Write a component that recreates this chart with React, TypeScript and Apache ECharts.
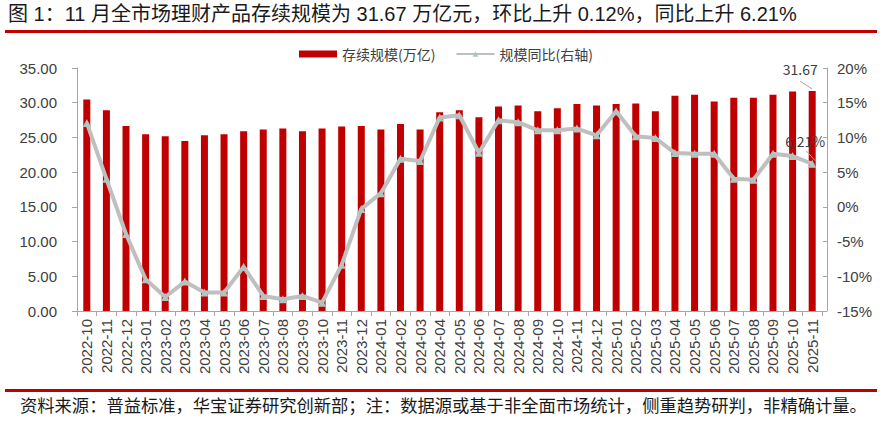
import React, { useEffect, useRef } from "react";
import * as echarts from "echarts";

const categories = [
  "2022-10", "2022-11", "2022-12",
  "2023-01", "2023-02", "2023-03", "2023-04", "2023-05", "2023-06",
  "2023-07", "2023-08", "2023-09", "2023-10", "2023-11", "2023-12",
  "2024-01", "2024-02", "2024-03", "2024-04", "2024-05", "2024-06",
  "2024-07", "2024-08", "2024-09", "2024-10", "2024-11", "2024-12",
  "2025-01", "2025-02", "2025-03", "2025-04", "2025-05", "2025-06",
  "2025-07", "2025-08", "2025-09", "2025-10", "2025-11",
];

// 存续规模（万亿）
const scaleValues = [
  30.47, 28.93, 26.66,
  25.46, 25.17, 24.49, 25.3, 25.46, 25.9,
  26.13, 26.28, 25.9, 26.28, 26.57, 26.66,
  26.13, 26.95, 26.13, 28.64, 28.93, 27.91,
  29.46, 29.6, 28.78, 29.22, 29.8, 29.6,
  29.8, 29.9, 28.78, 31.0, 31.15, 30.18,
  30.7, 30.7, 31.15, 31.63, 31.67,
];

// 规模同比（%）
const yoyValues = [
  12.09, 4.04, -3.91,
  -10.42, -12.98, -10.76, -12.35, -12.35, -8.64,
  -12.83, -13.31, -12.83, -13.8, -8.35, -0.3,
  1.97, 6.94, 6.6, 12.87, 13.2, 7.8,
  12.48, 12.19, 11.03, 11.03, 11.28, 10.31,
  13.78, 10.17, 9.92, 7.75, 7.66, 7.66,
  4.04, 3.9, 7.66, 7.32, 6.21,
];

const TITLE = "图 1：11 月全市场理财产品存续规模为 31.67 万亿元，环比上升 0.12%，同比上升 6.21%";
const FOOTER = "资料来源：普益标准，华宝证券研究创新部；注：数据源或基于非全面市场统计，侧重趋势研判，非精确计量。";
const BAR_NAME = "存续规模(万亿)";
const LINE_NAME = "规模同比(右轴)";

const SANS = '"Liberation Sans", Arial, "Noto Sans CJK SC", sans-serif';
const CJK = '"Noto Sans CJK SC", "Liberation Sans", sans-serif';
const RED = "#C00000";
const AXIS = "#A6A6A6";
const TXT = "#404040";

export default function App() {
  const ref = useRef<HTMLDivElement>(null);

  useEffect(() => {
    if (!ref.current) return;
    const chart = echarts.init(ref.current, null, { renderer: "svg" });
    const last = categories.length - 1;

    const baseGraphic: any[] = [
      { id: "titleLine", type: "rect", left: 5, top: 30, shape: { width: 872, height: 3 }, style: { fill: RED } },
      { id: "footLine", type: "rect", left: 5, top: 389, shape: { width: 872, height: 3 }, style: { fill: RED } },
      {
        id: "footer",
        type: "text",
        left: 20,
        top: 396,
        style: { text: FOOTER, fontSize: 17.3, fill: "#1a1a1a", fontFamily: CJK },
      },
    ];

    chart.setOption({
      animation: false,
      backgroundColor: "#ffffff",
      textStyle: { fontFamily: SANS },
      title: {
        text: TITLE,
        left: 8,
        top: 4,
        padding: 0,
        textStyle: { fontSize: 20, fontWeight: "normal", color: "#1a1a1a", fontFamily: SANS },
      },
      graphic: baseGraphic,
      legend: {
        left: 299,
        top: 47,
        itemWidth: 38,
        itemHeight: 7,
        itemGap: 20,
        padding: 0,
        textStyle: { fontSize: 14, color: TXT, fontFamily: CJK },
        data: [{ name: BAR_NAME, icon: "rect" }, { name: LINE_NAME }],
      },
      grid: { left: 77, right: 61, top: 68, bottom: 111, containLabel: false },
      xAxis: {
        type: "category",
        data: categories,
        boundaryGap: true,
        axisLine: { lineStyle: { color: AXIS, width: 1 } },
        axisTick: { show: true, length: 5, lineStyle: { color: AXIS } },
        axisLabel: { rotate: 90, interval: 0, fontSize: 15, color: TXT, margin: 8, fontFamily: SANS },
        splitLine: { show: false },
      },
      yAxis: [
        {
          type: "value",
          min: 0,
          max: 35,
          interval: 5,
          axisLine: { show: true, lineStyle: { color: AXIS } },
          axisTick: { show: true, length: 5, lineStyle: { color: AXIS } },
          axisLabel: {
            fontSize: 15,
            color: TXT,
            margin: 20,
            fontFamily: SANS,
            formatter: (v: number) => v.toFixed(2),
          },
          splitLine: { show: false },
        },
        {
          type: "value",
          position: "right",
          offset: 5,
          min: -15,
          max: 20,
          interval: 5,
          axisLine: { show: true, lineStyle: { color: AXIS } },
          axisTick: { show: true, inside: true, length: 4, lineStyle: { color: AXIS } },
          axisLabel: {
            fontSize: 15,
            color: TXT,
            margin: 10,
            fontFamily: SANS,
            formatter: "{value}%",
          },
          splitLine: { show: false },
        },
      ],
      series: [
        {
          name: BAR_NAME,
          type: "bar",
          barWidth: 7,
          itemStyle: { color: RED },
          data: scaleValues.map((v, i) =>
            i === last ? { value: v, label: { show: true } } : v
          ),
          label: {
            show: false,
            position: "top",
            color: TXT,
            fontSize: 14,
            fontFamily: CJK,
            formatter: (p: any) => Number(p.value).toFixed(2),
          },
          labelLayout: { dx: -12, dy: -10 },
        },
        {
          name: LINE_NAME,
          type: "line",
          yAxisIndex: 1,
          symbol: "triangle",
          symbolSize: 8,
          lineStyle: { color: "#BFBFBF", width: 4 },
          itemStyle: { color: "#B3C3C0" },
          data: yoyValues.map((v, i) =>
            i === last ? { value: v, label: { show: true } } : v
          ),
          label: {
            show: false,
            position: "top",
            color: TXT,
            fontSize: 14,
            fontFamily: CJK,
            formatter: (p: any) => Number(p.value).toFixed(2) + "%",
          },
          labelLayout: { dx: -7, dy: -7 },
        },
      ],
    });

    // leader lines for the two data labels, positioned via the chart's own scales
    const pBar = chart.convertToPixel({ xAxisIndex: 0, yAxisIndex: 0 }, [last, scaleValues[last]]) as number[];
    const pLine = chart.convertToPixel({ xAxisIndex: 0, yAxisIndex: 1 }, [last, yoyValues[last]]) as number[];
    if (pBar && pLine) {
      chart.setOption({
        graphic: [
          ...baseGraphic,
          {
            id: "barLeader",
            type: "line",
            shape: { x1: pBar[0] - 12, y1: pBar[1] - 10, x2: pBar[0], y2: pBar[1] - 2 },
            style: { stroke: AXIS, lineWidth: 1 },
            z: 10,
          },
          {
            id: "lineLeader",
            type: "line",
            shape: { x1: pLine[0] - 6, y1: pLine[1] - 13, x2: pLine[0] + 3, y2: pLine[1] - 3 },
            style: { stroke: AXIS, lineWidth: 1 },
            z: 10,
          },
        ],
      });
    }

    return () => chart.dispose();
  }, []);

  return (
    <div
      ref={ref}
      style={{ position: "absolute", left: 0, top: 0, width: 883, height: 422 }}
    />
  );
}
